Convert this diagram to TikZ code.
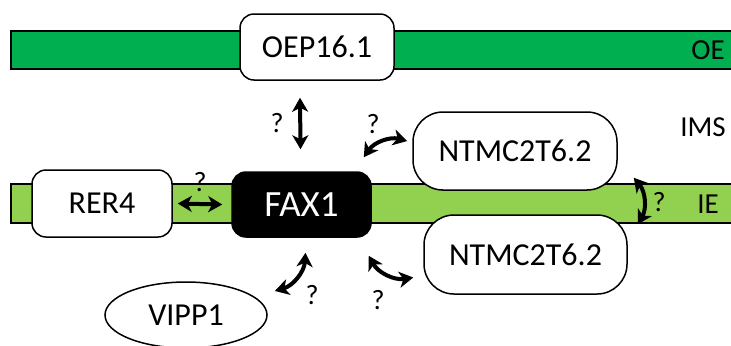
\documentclass[tikz,border=0pt]{standalone}
\usepackage{fontspec}
\setmainfont{Carlito}
\usepackage{tikz}
\usetikzlibrary{arrows.meta, calc, shapes.geometric}
\definecolor{oegreen}{HTML}{00B050}
\definecolor{iegreen}{HTML}{92D050}

\begin{document}
\begin{tikzpicture}[
        x=0.5pt, y=-0.5pt,
        >={Stealth[length=7pt, width=8pt, inset=2pt]},
        band/.style={draw, line width=0.75pt},
        prot/.style={draw, fill=white, line width=0.75pt, rounded corners=7pt, inner sep=0pt, font=\fontsize{16}{18}\selectfont},
        link/.style={<->, line width=2pt},
        qmark/.style={font=\fontsize{14}{16}\selectfont},
        region/.style={font=\fontsize{14.5}{16}\selectfont}
    ]
        \useasboundingbox (0,0) rectangle (731,345);

        % Membranes
        \draw[band, fill=oegreen] (11,31) rectangle (733,69);
        \draw[band, fill=iegreen] (11,184) rectangle (733,223);
        \node[region] (oe) at (708,50) {OE};
        \node[region] (ims) at (703,127) {IMS};
        \node[region] (ie) at (708,204) {IE};

        % Proteins
        \node[prot, minimum width=77pt, minimum height=33pt] (oep) at (317,47) {OEP16.1};
        \node[prot, minimum width=70pt, minimum height=33.5pt] (rer) at (102,203.5) {RER4};
        \node[prot, fill=black, text=white, minimum width=69.5pt, minimum height=32.5pt, font=\fontsize{18.5}{20}\selectfont] (fax) at (301.5,204.5) {FAX1};
        \node[prot, rounded corners=15pt, minimum width=102pt, minimum height=39pt] (ntop) at (515,151) {NTMC2T6.2};
        \node[prot, rounded corners=15pt, minimum width=101.5pt, minimum height=39.5pt] (nbot) at (525.5,254.5) {NTMC2T6.2};
        \node[prot, ellipse, minimum width=81pt, minimum height=33pt] (vipp) at (186,315) {VIPP1};

        % Interactions
        \draw[link] ($(fax.north)+(-1,-22)$) -- ($(oep.south)+(-17,17)$)
            node[midway, left=4pt, qmark] {?};
        \draw[link] ($(rer.east)+(5,0)$) -- ($(fax.west)+(-9,0)$)
            node[midway, above=2pt, qmark] {?};
        \draw[link] ($(fax.north east)+(-8,-14)$) to[bend left=35] ($(ntop.west)+(-5,-10)$);
        \node[qmark] (q3) at (373,124) {?};
        \draw[link] ($(vipp.east)+(7,-24)$) to[bend right=35] ($(fax.south)+(4,15)$);
        \node[qmark] (q4) at (312,295) {?};
        \draw[link] ($(fax.south east)+(-3,18)$) to[bend right=35] ($(nbot.west)+(-10,23)$);
        \node[qmark] (q5) at (378,300) {?};
        \draw[link] ($(ntop.south east)+(16,-13)$) to[bend left=35] ($(nbot.north east)+(10,10)$);
        \node[qmark] (q6) at (659,202) {?};

    \end{tikzpicture}
\end{document}
